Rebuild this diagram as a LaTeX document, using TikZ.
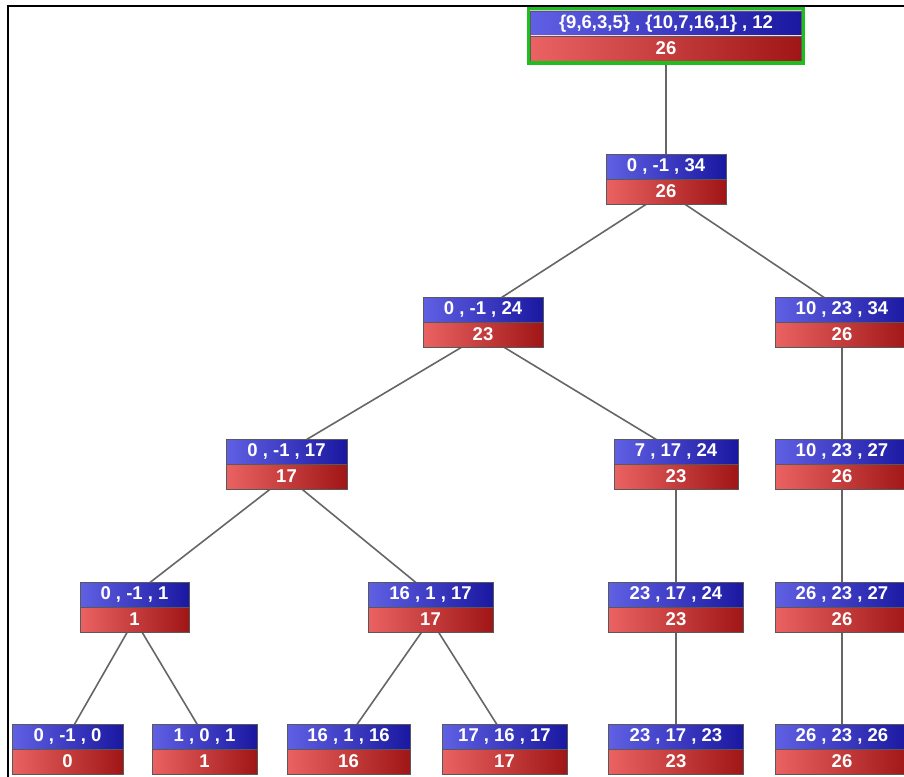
\documentclass[tikz,border=0pt]{standalone}
\usepackage{fontspec}
\setmainfont{Liberation Sans}
\usepackage{xcolor}
\usepackage{tikz}
\usetikzlibrary{positioning,fit,backgrounds}
\definecolor{keylight}{RGB}{96,96,228}
\definecolor{keydark}{RGB}{26,24,160}
\definecolor{vallight}{RGB}{234,98,98}
\definecolor{valdark}{RGB}{160,22,22}
\definecolor{selgreen}{RGB}{30,190,30}

\begin{document}
\begin{tikzpicture}[x=1pt, y=-1pt,
    key/.style={draw=gray!70!black, left color=keylight, right color=keydark, rectangle, inner sep=0pt, outer sep=0pt,
        minimum width=#1, minimum height=25pt, text=white, font=\fontsize{18.5}{20}\selectfont\bfseries,
        path picture={\draw[white!60!keylight, line width=1pt] (path picture bounding box.north west) -- (path picture bounding box.north east);}},
    val/.style={draw=gray!70!black, left color=vallight, right color=valdark, rectangle, inner sep=0pt, outer sep=0pt,
        minimum width=#1, minimum height=25pt, text=white, font=\fontsize{18.5}{20}\selectfont\bfseries,
        path picture={\draw[red!15, line width=1.5pt] (path picture bounding box.north west) -- (path picture bounding box.north east);}},
    edge/.style={draw=black!60, line width=1.6pt},
    selected/.style={draw=selgreen, line width=3pt, inner sep=2pt}
]
\clip (0,0) rectangle (904,776);

% frame
\draw[line width=2.2pt] (8,800) |- (920,6);

% root
\node[key=271] (k0) at (666,23.5) {\{9,6,3,5\} , \{10,7,16,1\} , 12};
\node[val=271, below=0pt of k0] (v0) {26};
\node[selected, fit=(k0)(v0)] (sel) {};

% level 1
\node[key=120] (k1) at (666,166.5) {0 , -1 , 34};
\node[val=120, below=0pt of k1] (v1) {26};

% level 2
\node[key=120] (k2) at (483,309.5) {0 , -1 , 24};
\node[val=120, below=0pt of k2] (v2) {23};
\node[key=134] (k3) at (842,309.5) {10 , 23 , 34};
\node[val=134, below=0pt of k3] (v3) {26};

% level 3
\node[key=121] (k4) at (286.5,451.5) {0 , -1 , 17};
\node[val=121, below=0pt of k4] (v4) {17};
\node[key=124] (k5) at (676,451.5) {7 , 17 , 24};
\node[val=124, below=0pt of k5] (v5) {23};
\node[key=134] (k6) at (842,451.5) {10 , 23 , 27};
\node[val=134, below=0pt of k6] (v6) {26};

% level 4
\node[key=109] (k7) at (134.5,594.5) {0 , -1 , 1};
\node[val=109, below=0pt of k7] (v7) {1};
\node[key=125] (k8) at (430.5,594.5) {16 , 1 , 17};
\node[val=125, below=0pt of k8] (v8) {17};
\node[key=135] (k9) at (676,594.5) {23 , 17 , 24};
\node[val=135, below=0pt of k9] (v9) {23};
\node[key=134] (k10) at (842,594.5) {26 , 23 , 27};
\node[val=134, below=0pt of k10] (v10) {26};

% leaves
\node[key=111] (k11) at (67.5,736.5) {0 , -1 , 0};
\node[val=111, below=0pt of k11] (v11) {0};
\node[key=105] (k12) at (204.5,736.5) {1 , 0 , 1};
\node[val=105, below=0pt of k12] (v12) {1};
\node[key=123] (k13) at (348.5,736.5) {16 , 1 , 16};
\node[val=123, below=0pt of k13] (v13) {16};
\node[key=125] (k14) at (504.5,736.5) {17 , 16 , 17};
\node[val=125, below=0pt of k14] (v14) {17};
\node[key=135] (k15) at (676,736.5) {23 , 17 , 23};
\node[val=135, below=0pt of k15] (v15) {23};
\node[key=134] (k16) at (842,736.5) {26 , 23 , 26};
\node[val=134, below=0pt of k16] (v16) {26};

% tree edges, behind the boxes
\begin{scope}[on background layer]
\foreach \p/\c in {0/1,1/2,1/3,2/4,2/5,3/6,4/7,4/8,5/9,6/10,7/11,7/12,8/13,8/14,9/15,10/16}
    \draw[edge] (v\p.center) -- (k\c.center);
\end{scope}

\end{tikzpicture}
\end{document}
